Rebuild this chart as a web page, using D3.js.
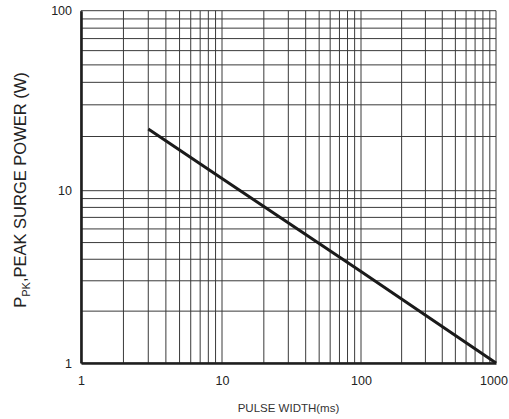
<!DOCTYPE html>
<html>
<head>
<meta charset="utf-8">
<script src="https://cdn.jsdelivr.net/npm/d3@7"></script>
<style>
  body { margin: 0; background: #fff; }
  text { font-family: "Liberation Sans", Arial, sans-serif; }
</style>
</head>
<body>
<svg id="chart"></svg>
<script>
const width = 509;
const height = 419;

// curve
const pulseWidth = [3, 10, 100, 1000];
const peakPower = [22, 11.7, 3.4, 1];

// tick labels
const xTicks = [1, 10, 100, 1000];
const yTicks = [1, 10, 100];

// grid lines, 1-2-3...9 in every decade
const xGrid = [1, 2, 3, 4, 5, 6, 7, 8, 9, 10, 20, 30, 40, 50, 60, 70, 80, 90, 100, 200, 300, 400, 500, 600, 700, 800, 900, 1000];
const yGrid = [1, 2, 3, 4, 5, 6, 7, 8, 9, 10, 20, 30, 40, 50, 60, 70, 80, 90, 100];

const svg = d3.select("#chart")
    .attr("width", width)
    .attr("height", height);

// the decades of the original grid are not all the same size
const x = d3.scaleLog()
    .domain([1, 10, 100, 1000])
    .range([81, 222, 361, 496]);

const y = d3.scaleLog()
    .domain([1, 10, 100])
    .range([363, 190.7, 10.7]);

// grid
svg.append("g")
    .selectAll("line")
    .data(xGrid)
    .enter()
    .append("line")
    .attr("x1", d => x(d))
    .attr("x2", d => x(d))
    .attr("y1", y(1))
    .attr("y2", y(100))
    .attr("stroke", "#3a3a3a")
    .attr("stroke-width", 1);

svg.append("g")
    .selectAll("line")
    .data(yGrid)
    .enter()
    .append("line")
    .attr("x1", x(1))
    .attr("x2", x(1000))
    .attr("y1", d => y(d))
    .attr("y2", d => y(d))
    .attr("stroke", "#3a3a3a")
    .attr("stroke-width", 1);

// axes
const xAxis = d3.axisBottom(x).tickValues(xTicks).tickFormat(d3.format("d")).tickSize(0).tickPadding(13);
const yAxis = d3.axisLeft(y).tickValues(yTicks).tickFormat(d3.format("d")).tickSize(0).tickPadding(9);

const gx = svg.append("g")
    .attr("transform", `translate(0, ${y(1)})`)
    .call(xAxis);
const gy = svg.append("g")
    .attr("transform", `translate(${x(1)}, 0)`)
    .call(yAxis);

[gx, gy].forEach(g => {
    g.select(".domain").attr("stroke", "#1e1e1e").attr("stroke-width", 2.6);
    g.selectAll("text").attr("fill", "#222").style("font-size", "12.5px");
});
// last label sits a little left of its line, inside the picture
gx.selectAll("text").filter(d => d === 1000).attr("dx", -2.5);

// the curve
const pts = pulseWidth.map((d, i) => [d, peakPower[i]]);
svg.append("path")
    .datum(pts)
    .attr("fill", "none")
    .attr("stroke", "#1a1a1a")
    .attr("stroke-width", 3)
    .attr("d", d3.line().x(d => x(d[0])).y(d => y(d[1])));

// titles
svg.append("text")
    .attr("x", (x(1) + x(1000)) / 2)
    .attr("y", 412)
    .attr("text-anchor", "middle")
    .attr("fill", "#333")
    .style("font-size", "11.5px")
    .text("PULSE WIDTH(ms)");

const yt = svg.append("text")
    .attr("transform", "translate(25.5, 190) rotate(-90)")
    .attr("text-anchor", "middle")
    .attr("fill", "#222")
    .style("font-size", "16.5px");
yt.append("tspan").text("P");
yt.append("tspan").attr("dy", 4).style("font-size", "11px").text("PK");
yt.append("tspan").attr("dy", -4).text(",PEAK SURGE POWER (W)");
</script>
</body>
</html>
